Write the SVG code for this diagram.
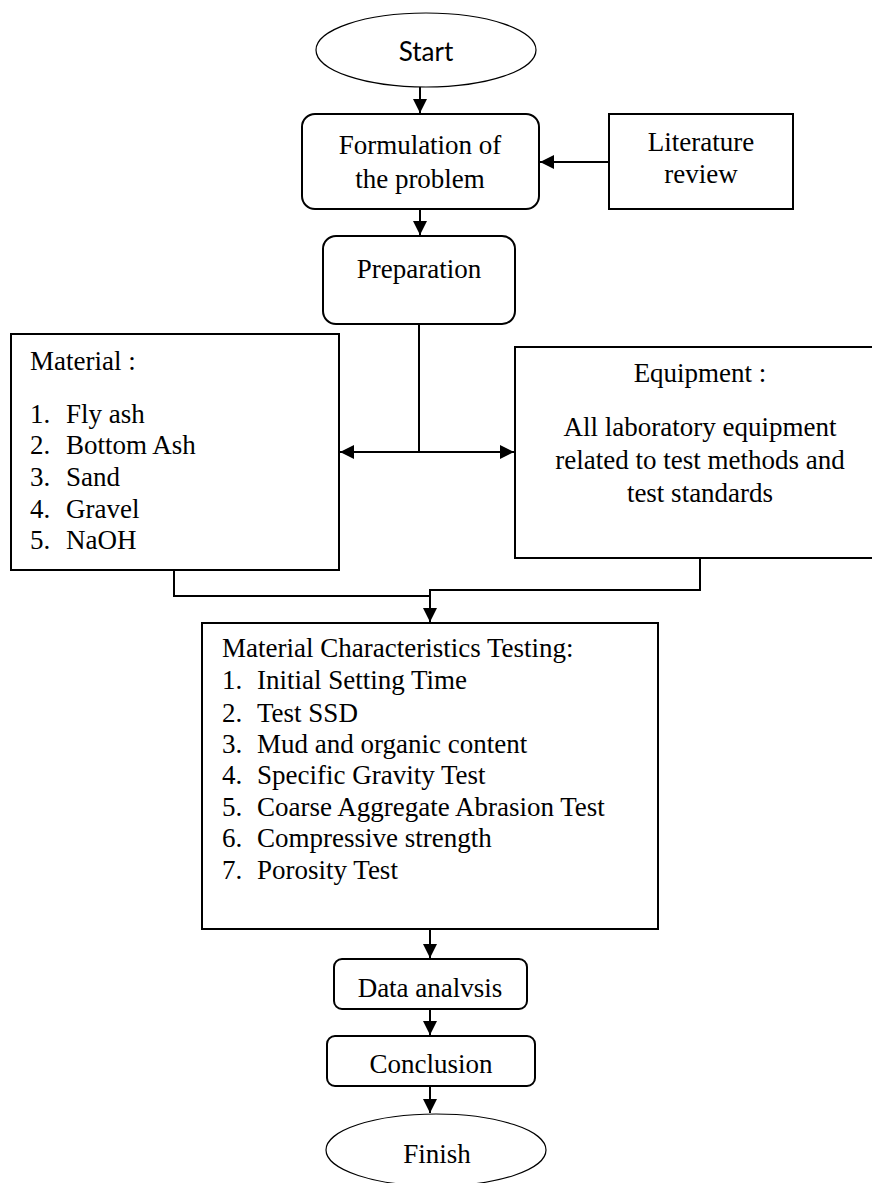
<svg xmlns="http://www.w3.org/2000/svg" width="872" height="1183" viewBox="0 0 872 1183">
<style>
.box{fill:#fff;stroke:#000;stroke-width:2}
.ell{fill:#fff;stroke:#000;stroke-width:1.2}
.t{font-family:"Liberation Serif","Times New Roman",serif;font-size:27px;fill:#000}
.c{text-anchor:middle}
.s{font-family:Lato,"Liberation Sans",sans-serif;font-size:26px;fill:#000;text-anchor:middle}
.ln{fill:none;stroke:#000;stroke-width:2}
</style>
<defs>
<marker id="ah" viewBox="0 0 14 14" refX="14" refY="7" markerWidth="14" markerHeight="14" markerUnits="userSpaceOnUse" orient="auto">
<path d="M0,0 L14,7 L0,14 z" fill="#000"/>
</marker>
</defs>
<rect width="872" height="1183" fill="#fff"/>
<g id="connectors">
<path class="ln" d="M420,87 V113" marker-end="url(#ah)"/>
<path class="ln" d="M609,162 H540" marker-end="url(#ah)"/>
<path class="ln" d="M420,209 V235" marker-end="url(#ah)"/>
<path class="ln" d="M419,324 V452"/>
<path class="ln" d="M419,452 H340" marker-end="url(#ah)"/>
<path class="ln" d="M419,452 H514" marker-end="url(#ah)"/>
<path class="ln" d="M174,570 V596 H430"/>
<path class="ln" d="M700,558 V590 H430 V622" marker-end="url(#ah)"/>
<path class="ln" d="M430,929 V958" marker-end="url(#ah)"/>
<path class="ln" d="M430,1009 V1035" marker-end="url(#ah)"/>
<path class="ln" d="M430,1086 V1113" marker-end="url(#ah)"/>
</g>
<g id="start">
<ellipse class="ell" cx="426" cy="50" rx="110" ry="37"/>
<text class="s" x="426" y="61">Start</text>
</g>
<g id="formulation">
<rect class="box" x="302" y="114" width="237" height="95" rx="13"/>
<text class="t c" x="420" y="154">Formulation of</text>
<text class="t c" x="420" y="188">the problem</text>
</g>
<g id="literature">
<rect class="box" x="609" y="114" width="184" height="95"/>
<text class="t c" x="701" y="151">Literature</text>
<text class="t c" x="701" y="183">review</text>
</g>
<g id="preparation">
<rect class="box" x="323" y="236" width="192" height="88" rx="13"/>
<text class="t c" x="419" y="278">Preparation</text>
</g>
<g id="material">
<rect class="box" x="11" y="334" width="328" height="236"/>
<text class="t" x="30" y="370">Material :</text>
<text class="t" x="30" y="423">1.</text><text class="t" x="66" y="423">Fly ash</text>
<text class="t" x="30" y="454">2.</text><text class="t" x="66" y="454">Bottom Ash</text>
<text class="t" x="30" y="486">3.</text><text class="t" x="66" y="486">Sand</text>
<text class="t" x="30" y="518">4.</text><text class="t" x="66" y="518">Gravel</text>
<text class="t" x="30" y="549">5.</text><text class="t" x="66" y="549">NaOH</text>
</g>
<g id="equipment">
<rect class="box" x="515" y="347" width="370" height="211"/>
<text class="t c" x="700" y="382">Equipment :</text>
<text class="t c" x="700" y="436">All laboratory equipment</text>
<text class="t c" x="700" y="469">related to test methods and</text>
<text class="t c" x="700" y="502">test standards</text>
</g>
<g id="testing">
<rect class="box" x="202" y="623" width="456" height="306"/>
<text class="t" x="222" y="657">Material Characteristics Testing:</text>
<text class="t" x="222" y="689">1.</text><text class="t" x="257" y="689">Initial Setting Time</text>
<text class="t" x="222" y="722">2.</text><text class="t" x="257" y="722">Test SSD</text>
<text class="t" x="222" y="753">3.</text><text class="t" x="257" y="753">Mud and organic content</text>
<text class="t" x="222" y="784">4.</text><text class="t" x="257" y="784">Specific Gravity Test</text>
<text class="t" x="222" y="816">5.</text><text class="t" x="257" y="816">Coarse Aggregate Abrasion Test</text>
<text class="t" x="222" y="847">6.</text><text class="t" x="257" y="847">Compressive strength</text>
<text class="t" x="222" y="879">7.</text><text class="t" x="257" y="879">Porosity Test</text>
</g>
<g id="analysis">
<rect class="box" x="334" y="959" width="193" height="50" rx="8"/>
<text class="t c" x="430" y="997">Data analvsis</text>
</g>
<g id="conclusion">
<rect class="box" x="327" y="1036" width="208" height="50" rx="8"/>
<text class="t c" x="431" y="1073">Conclusion</text>
</g>
<g id="finish">
<ellipse class="ell" cx="436" cy="1150" rx="110" ry="36"/>
<text class="t c" x="437" y="1163">Finish</text>
</g>
</svg>
